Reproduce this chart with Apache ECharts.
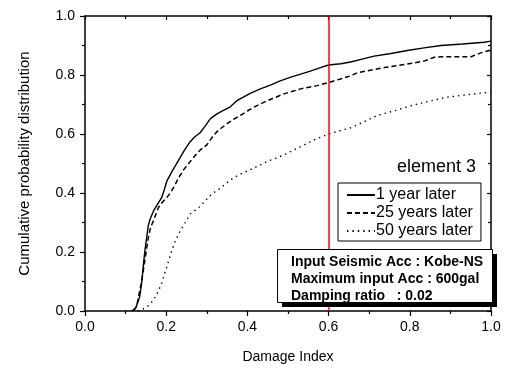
<!DOCTYPE html>
<html>
<head>
<meta charset="utf-8">
<script src="https://cdn.jsdelivr.net/npm/echarts@6/dist/echarts.min.js"></script>
<style>html,body{margin:0;padding:0;background:#fff;}#c{width:509px;height:369px;}</style>
</head>
<body>
<div id="c"></div>
<script>
// Data
var seriesNames = ['1 year later', '25 years later', '50 years later'];
var xTicks = [0.0, 0.2, 0.4, 0.6, 0.8, 1.0];
var yTicks = [0.0, 0.2, 0.4, 0.6, 0.8, 1.0];
var markX = 0.6;

var year1 = [
  [0.115,0],[0.118,0],[0.125,0.01],[0.13,0.03],[0.135,0.05],[0.14,0.10],[0.144,0.16],[0.148,0.21],
  [0.152,0.25],[0.156,0.29],[0.160,0.31],[0.169,0.34],[0.18,0.365],[0.189,0.385],[0.195,0.41],
  [0.2015,0.44],[0.215,0.475],[0.23,0.51],[0.245,0.545],[0.259,0.574],[0.27,0.59],[0.284,0.605],
  [0.295,0.625],[0.309,0.652],[0.325,0.668],[0.341,0.680],[0.358,0.692],[0.374,0.713],[0.39,0.725],
  [0.407,0.738],[0.432,0.753],[0.455,0.765],[0.481,0.780],[0.505,0.792],[0.531,0.803],[0.555,0.813],
  [0.580,0.825],[0.60,0.834],[0.63,0.838],[0.654,0.844],[0.68,0.853],[0.712,0.864],[0.75,0.872],
  [0.794,0.883],[0.835,0.892],[0.877,0.900],[0.93,0.905],[0.983,0.911],[1.0,0.915]
];
var year25 = [
  [0.12,0],[0.123,0.005],[0.128,0.02],[0.132,0.05],[0.138,0.09],[0.144,0.14],[0.150,0.195],[0.156,0.25],
  [0.162,0.285],[0.169,0.307],[0.175,0.33],[0.181,0.351],[0.19,0.368],[0.2016,0.385],[0.21,0.40],
  [0.218,0.418],[0.23,0.45],[0.243,0.479],[0.26,0.508],[0.276,0.535],[0.284,0.546],[0.300,0.563],
  [0.317,0.596],[0.329,0.613],[0.350,0.635],[0.366,0.65],[0.383,0.663],[0.40,0.678],[0.416,0.691],
  [0.449,0.713],[0.490,0.736],[0.531,0.753],[0.572,0.764],[0.601,0.775],[0.625,0.785],[0.654,0.797],
  [0.671,0.808],[0.71,0.818],[0.745,0.827],[0.79,0.836],[0.835,0.847],[0.86,0.86],[0.877,0.862],
  [0.951,0.862],[0.975,0.875],[1.0,0.885]
];
var year50 = [
  [0.13,0],[0.14,0.005],[0.15,0.012],[0.16,0.022],[0.169,0.039],[0.18,0.065],[0.189,0.095],[0.195,0.12],
  [0.2016,0.15],[0.208,0.18],[0.214,0.206],[0.225,0.245],[0.235,0.273],[0.247,0.30],[0.259,0.329],
  [0.272,0.342],[0.284,0.355],[0.297,0.375],[0.309,0.392],[0.321,0.405],[0.333,0.416],[0.35,0.435],
  [0.366,0.452],[0.386,0.466],[0.407,0.479],[0.428,0.493],[0.449,0.507],[0.470,0.518],[0.490,0.529],
  [0.51,0.543],[0.531,0.557],[0.552,0.571],[0.572,0.585],[0.601,0.600],[0.63,0.612],[0.654,0.621],
  [0.687,0.641],[0.720,0.663],[0.765,0.68],[0.811,0.699],[0.85,0.712],[0.893,0.725],[0.94,0.733],
  [0.992,0.741],[1.0,0.743]
];
var annotationTitle = 'element 3';
var infoLines = ['Input Seismic Acc : Kobe-NS', 'Maximum input Acc : 600gal', 'Damping ratio   : 0.02'];
var xName = 'Damage Index';
var yName = 'Cumulative probability distribution';

var FONT = 'Liberation Sans, Arial, sans-serif';
var chart = echarts.init(document.getElementById('c'), null, {renderer: 'canvas'});

function baseAxis(extra) {
  var a = {
    type: 'value', min: 0, max: 1, interval: 0.2,
    axisLine: {show: true, onZero: false, lineStyle: {color: '#000', width: 1.5}},
    axisTick: {show: true, inside: false, length: 5, lineStyle: {color: '#000', width: 1.2}},
    minorTick: {show: true, splitNumber: 2, length: 3, lineStyle: {color: '#000', width: 1.2}},
    splitLine: {show: false},
    axisLabel: {show: true, color: '#000', fontSize: 14, fontFamily: FONT,
      formatter: function (v) { return v.toFixed(1); }}
  };
  for (var k in extra) a[k] = extra[k];
  return a;
}

var option = {
  animation: false,
  backgroundColor: '#fff',
  title: {
    text: annotationTitle, right: 28, top: 153,
    textStyle: {fontSize: 18, fontWeight: 'normal', color: '#000', fontFamily: FONT}
  },
  grid: {left: 85, right: 18, top: 16, bottom: 54, containLabel: false},
  legend: {
    data: seriesNames, orient: 'vertical', left: 338, top: 183,
    itemWidth: 28, itemHeight: 14, itemGap: 2,
    padding: [4, 8, 2, 8],
    borderColor: '#000', borderWidth: 1, backgroundColor: '#fff',
    itemStyle: {opacity: 0},
    textStyle: {fontSize: 16, color: '#000', fontFamily: FONT, padding: [0, 0, 0, -4]},
    selectedMode: false
  },
  xAxis: [
    baseAxis({position: 'bottom', name: xName, nameLocation: 'middle', nameGap: 39,
      nameTextStyle: {fontSize: 14, color: '#000', fontFamily: FONT},
      axisLabel: {show: true, color: '#000', fontSize: 14, fontFamily: FONT, margin: 9,
        formatter: function (v) { return v.toFixed(1); }}}),
    baseAxis({position: 'top', axisLabel: {show: false},
      axisTick: {show: true, inside: true, length: 4, lineStyle: {color: '#000', width: 1.2}},
      minorTick: {show: true, splitNumber: 2, length: 3, lineStyle: {color: '#000', width: 1.2}}})
  ],
  yAxis: [
    baseAxis({position: 'left', name: yName, nameLocation: 'middle', nameGap: 53, nameRotate: 90,
      nameTextStyle: {fontSize: 15, color: '#000', fontFamily: FONT},
      axisLabel: {show: true, color: '#000', fontSize: 14, fontFamily: FONT, margin: 10,
        formatter: function (v) { return v.toFixed(1); }}}),
    baseAxis({position: 'right', axisLabel: {show: false},
      axisTick: {show: true, inside: true, length: 4, lineStyle: {color: '#000', width: 1.2}},
      minorTick: {show: true, splitNumber: 2, length: 3, lineStyle: {color: '#000', width: 1.2}}})
  ],
  series: [
    {name: seriesNames[0], type: 'line', data: year1, symbol: 'none', smooth: false,
      lineStyle: {color: '#000', width: 1.4, type: 'solid'}, itemStyle: {color: '#000'},
      markLine: {silent: true, symbol: ['none', 'none'], label: {show: false},
        lineStyle: {color: '#ff0000', width: 1.5, type: 'solid'}, data: [{xAxis: markX}]}},
    {name: seriesNames[1], type: 'line', data: year25, symbol: 'none',
      lineStyle: {color: '#000', width: 1.5, type: [5, 3]}, itemStyle: {color: '#000'}},
    {name: seriesNames[2], type: 'line', data: year50, symbol: 'none',
      lineStyle: {color: '#000', width: 1.4, type: [1.4, 4]}, itemStyle: {color: '#000'}}
  ],
  graphic: [
    {type: 'rect', left: 282, top: 254, z: 100, shape: {width: 215, height: 53}, style: {fill: '#000'}},
    {type: 'rect', left: 277, top: 249, z: 101, shape: {width: 215, height: 53},
      style: {fill: '#fff', stroke: '#000', lineWidth: 1}},
    {type: 'text', left: 291, top: 254, z: 102,
      style: {text: infoLines.join('\n'), fill: '#000', font: 'bold 14px ' + FONT, lineHeight: 17}}
  ]
};
chart.setOption(option);
</script>
</body>
</html>
